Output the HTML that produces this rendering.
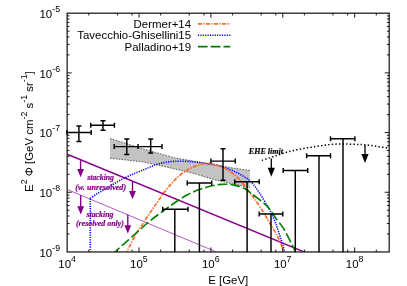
<!DOCTYPE html>
<html><head><meta charset="utf-8"><style>
html,body{margin:0;padding:0;background:#fff;}
svg{display:block;will-change:transform;opacity:0.999;}
text{font-family:"Liberation Sans",sans-serif;fill:#000;}
.s{font-family:"Liberation Serif",serif;font-style:italic;font-weight:bold;}
</style></head><body>
<svg width="407" height="286" viewBox="0 0 407 286">
<g transform="translate(0.7,0.6)">
<defs><clipPath id="c"><rect x="66.45" y="12.6" width="322.05" height="238.75"/></clipPath></defs>

<g clip-path="url(#c)">
<g transform="translate(-0.6,-0.5)">
<path d="M109.9,138.3 L144.3,149.1 L164.0,154.8 L175.0,157.8 L194.6,161.2 L214.3,164.6 L234.0,168.1 L249.7,170.5 L249.7,187.5 L234.0,184.2 L214.3,179.6 L194.6,173.6 L183.6,170.9 L164.0,166.4 L144.3,162.0 L109.9,158.1 Z" fill="#c3c3c3"/>
<path d="M109.9,138.3 L144.3,149.1 L164.0,154.8 L175.0,157.8 L194.6,161.2 L214.3,164.6 L234.0,168.1 L249.7,170.5 M109.9,158.1 L144.3,162.0 L164.0,166.4 L183.6,170.9 L194.6,173.6 L214.3,179.6 L234.0,184.2 L249.7,187.5" fill="none" stroke="#3a3a3a" stroke-width="0.8" stroke-dasharray="1.6,1.3"/>
</g>
<line x1="66.5" y1="188.9" x2="215.6" y2="251.3" stroke="#a030b0" stroke-width="0.8"/>
<line x1="66.5" y1="153.7" x2="304.6" y2="251.8" stroke="#8b008b" stroke-width="1.5"/>
<g transform="translate(-0.7,-0.6)">
<path d="M90.3,252.5 L90.3,198.2" fill="none" stroke="#0000ff" stroke-width="1.6" stroke-dasharray="1.2,1.2"/>
<path d="M90.3,198.2 C91.4,197.5 94.6,195.3 97.0,193.8 C99.4,192.3 101.9,191.0 104.7,189.3 C107.5,187.6 110.7,185.7 114.0,183.8 C117.3,181.9 121.0,179.8 124.3,178.1 C127.6,176.4 130.7,175.1 134.0,173.7 C137.3,172.3 141.3,170.8 144.0,169.7 C146.7,168.6 147.8,167.9 150.0,167.0 C152.2,166.1 155.0,165.0 157.4,164.2 C159.8,163.4 162.2,162.8 164.7,162.4 C167.1,162.0 169.6,161.7 172.1,161.5 C174.6,161.3 177.0,161.2 179.5,161.2 C182.0,161.2 184.5,161.3 186.9,161.4 C189.3,161.5 191.8,161.7 194.2,161.9 C196.6,162.1 199.1,162.5 201.6,162.8 C204.1,163.2 206.8,163.7 209.0,164.0 C211.2,164.3 213.0,164.4 215.0,164.8 C217.0,165.2 219.0,165.7 221.1,166.3 C223.2,166.9 225.2,167.8 227.3,168.6 C229.4,169.4 231.4,170.1 233.4,171.0 C235.4,171.9 237.6,172.9 239.6,174.0 C241.6,175.1 243.9,176.5 245.7,177.7 C247.5,178.9 249.0,179.9 250.5,181.3 C252.0,182.7 253.4,184.3 254.7,186.0 C256.0,187.7 257.3,189.7 258.5,191.5 C259.7,193.3 260.8,194.9 262.1,197.0 C263.4,199.1 265.3,202.2 266.5,204.3 C267.7,206.4 268.6,207.7 269.5,209.5 C270.4,211.3 271.2,213.1 272.2,215.2 C273.1,217.3 274.4,219.9 275.2,222.0 C276.0,224.1 276.2,224.7 277.1,227.5 C278.0,230.3 279.6,234.7 280.8,238.6 C282.0,242.5 283.8,248.5 284.5,251.1 C285.2,253.7 285.2,253.5 285.3,254.0" fill="none" stroke="#0000ff" stroke-width="1.6" stroke-dasharray="1.2,1.2"/>
<path d="M125.5,254.5 C125.8,254.0 126.4,252.8 127.0,251.6 C127.6,250.3 127.7,249.8 129.2,247.0 C130.7,244.2 133.7,238.1 135.8,234.5 C137.9,230.9 139.8,228.4 141.7,225.6 C143.5,222.8 145.1,220.3 146.9,217.5 C148.8,214.7 151.1,211.3 152.8,208.7 C154.6,206.1 155.4,204.8 157.4,202.0 C159.4,199.2 162.2,194.9 164.7,191.7 C167.1,188.5 169.6,185.6 172.1,182.9 C174.6,180.2 177.0,177.6 179.5,175.5 C182.0,173.4 184.5,171.8 186.9,170.3 C189.3,168.8 191.8,167.6 194.2,166.6 C196.6,165.6 199.5,164.8 201.6,164.2 C203.7,163.6 205.3,163.2 207.0,163.1 C208.7,163.0 210.7,163.5 212.0,163.8 C213.3,164.1 213.5,164.3 215.0,164.8 C216.5,165.3 219.0,165.9 221.1,166.7 C223.2,167.5 225.2,168.5 227.3,169.7 C229.4,170.9 231.4,172.3 233.4,174.0 C235.4,175.7 237.6,177.5 239.6,179.6 C241.6,181.7 243.7,184.4 245.5,186.7 C247.3,189.0 248.8,191.2 250.3,193.3 C251.8,195.4 252.7,196.4 254.7,199.2 C256.7,202.0 260.3,207.4 262.1,210.2 C263.9,213.0 264.3,213.8 265.5,215.8 C266.7,217.8 267.3,218.9 269.2,222.2 C271.1,225.5 275.2,232.1 277.1,235.6 C279.0,239.1 279.8,240.4 280.8,243.0 C281.8,245.6 282.5,249.3 283.0,251.1 C283.5,252.9 283.7,253.5 283.8,254.0" fill="none" stroke="#ff6a2a" stroke-width="1.7" stroke-dasharray="4,1.3,1.3,1.4"/>
<path d="M112.5,254.5 C113.0,254.0 114.2,252.8 115.5,251.6 C116.8,250.3 118.8,248.4 120.3,247.0 C121.8,245.6 122.7,245.0 124.7,243.3 C126.7,241.6 129.6,238.9 132.1,236.7 C134.6,234.5 137.0,232.3 139.5,230.1 C142.0,227.9 144.5,225.5 146.9,223.4 C149.3,221.3 151.8,219.4 154.2,217.5 C156.6,215.6 159.1,214.0 161.6,212.2 C164.1,210.4 166.4,208.7 169.0,206.8 C171.6,204.9 174.3,203.0 177.3,201.0 C180.3,199.0 184.1,196.6 186.9,195.0 C189.7,193.4 191.8,192.5 194.2,191.5 C196.6,190.5 199.1,189.6 201.6,188.8 C204.1,188.0 206.8,187.1 209.0,186.5 C211.2,185.9 213.0,185.5 215.0,185.2 C217.0,184.8 219.0,184.6 221.1,184.4 C223.2,184.2 225.2,184.2 227.3,184.3 C229.4,184.4 231.4,184.6 233.4,185.0 C235.4,185.4 237.6,185.8 239.6,186.5 C241.6,187.2 243.9,188.3 245.7,189.3 C247.5,190.3 249.0,191.6 250.5,192.7 C252.0,193.8 252.8,194.5 254.7,196.0 C256.6,197.5 260.1,200.2 262.1,201.8 C264.1,203.4 265.3,204.4 266.5,205.6 C267.7,206.8 268.4,207.5 269.5,208.9 C270.6,210.3 272.1,212.6 273.2,214.2 C274.3,215.8 274.7,216.8 276.0,218.5 C277.3,220.2 279.4,222.7 280.8,224.6 C282.2,226.5 283.3,227.9 284.5,230.0 C285.7,232.1 287.0,234.7 288.2,237.1 C289.4,239.5 290.9,242.5 291.9,244.5 C292.9,246.5 293.6,247.8 294.1,248.9 C294.6,250.0 294.8,250.2 295.1,251.1 C295.4,251.9 295.9,253.5 296.0,254.0" fill="none" stroke="#008000" stroke-width="1.6" stroke-dasharray="9.7,3.1"/>
</g>
</g>
<path d="M261.8,160.4 C263.1,160.0 267.0,158.7 269.5,157.9 C272.0,157.1 274.4,156.2 276.9,155.4 C279.3,154.6 281.8,153.6 284.2,152.9 C286.6,152.2 289.1,151.6 291.6,151.0 C294.1,150.4 296.4,149.8 299.0,149.3 C301.6,148.8 304.8,148.2 307.4,147.8 C310.0,147.4 312.2,147.1 314.7,146.7 C317.1,146.3 319.6,145.9 322.1,145.6 C324.6,145.2 327.0,144.8 329.5,144.6 C332.0,144.3 334.4,144.2 336.9,144.1 C339.3,144.0 341.8,144.0 344.2,144.0 C346.6,144.0 349.1,144.1 351.6,144.2 C354.1,144.3 356.9,144.4 359.0,144.5 C361.1,144.6 362.3,144.6 364.5,144.8 C366.7,145.0 369.6,145.3 372.0,145.6 C374.4,145.9 376.8,146.3 379.2,146.7 C381.6,147.1 385.0,147.6 386.6,147.8 C388.2,148.1 388.6,148.1 389.0,148.2" fill="none" stroke="#000" stroke-width="1.5" stroke-dasharray="1.4,2.2" transform="translate(-0.7,-0.6)"/>
<rect x="66.45" y="12.6" width="322.05" height="238.75" fill="none" stroke="#2a2a2a" stroke-width="1.35"/>
<path d="M88.09,251.3 v-2.3 M88.09,12.6 v2.3 M116.69,251.3 v-2.3 M116.69,12.6 v2.3 M131.36,251.3 v-2.3 M131.36,12.6 v2.3 M138.32,251.3 v-4.5 M138.32,12.6 v4.5 M159.96,251.3 v-2.3 M159.96,12.6 v2.3 M188.56,251.3 v-2.3 M188.56,12.6 v2.3 M203.23,251.3 v-2.3 M203.23,12.6 v2.3 M210.20,251.3 v-4.5 M210.20,12.6 v4.5 M231.84,251.3 v-2.3 M231.84,12.6 v2.3 M260.44,251.3 v-2.3 M260.44,12.6 v2.3 M275.11,251.3 v-2.3 M275.11,12.6 v2.3 M282.07,251.3 v-4.5 M282.07,12.6 v4.5 M303.71,251.3 v-2.3 M303.71,12.6 v2.3 M332.31,251.3 v-2.3 M332.31,12.6 v2.3 M346.98,251.3 v-2.3 M346.98,12.6 v2.3 M353.95,251.3 v-4.5 M353.95,12.6 v4.5 M375.59,251.3 v-2.3 M375.59,12.6 v2.3 M66.5,233.38 h2.3 M388.5,233.38 h-2.3 M66.5,222.87 h2.3 M388.5,222.87 h-2.3 M66.5,215.41 h2.3 M388.5,215.41 h-2.3 M66.5,209.63 h2.3 M388.5,209.63 h-2.3 M66.5,204.90 h2.3 M388.5,204.90 h-2.3 M66.5,200.91 h2.3 M388.5,200.91 h-2.3 M66.5,197.44 h2.3 M388.5,197.44 h-2.3 M66.5,194.39 h2.3 M388.5,194.39 h-2.3 M66.5,191.66 h4.5 M388.5,191.66 h-4.5 M66.5,173.69 h2.3 M388.5,173.69 h-2.3 M66.5,163.18 h2.3 M388.5,163.18 h-2.3 M66.5,155.72 h2.3 M388.5,155.72 h-2.3 M66.5,149.94 h2.3 M388.5,149.94 h-2.3 M66.5,145.21 h2.3 M388.5,145.21 h-2.3 M66.5,141.22 h2.3 M388.5,141.22 h-2.3 M66.5,137.75 h2.3 M388.5,137.75 h-2.3 M66.5,134.70 h2.3 M388.5,134.70 h-2.3 M66.5,131.97 h4.5 M388.5,131.97 h-4.5 M66.5,114.00 h2.3 M388.5,114.00 h-2.3 M66.5,103.49 h2.3 M388.5,103.49 h-2.3 M66.5,96.03 h2.3 M388.5,96.03 h-2.3 M66.5,90.25 h2.3 M388.5,90.25 h-2.3 M66.5,85.52 h2.3 M388.5,85.52 h-2.3 M66.5,81.53 h2.3 M388.5,81.53 h-2.3 M66.5,78.06 h2.3 M388.5,78.06 h-2.3 M66.5,75.01 h2.3 M388.5,75.01 h-2.3 M66.5,72.28 h4.5 M388.5,72.28 h-4.5 M66.5,54.31 h2.3 M388.5,54.31 h-2.3 M66.5,43.80 h2.3 M388.5,43.80 h-2.3 M66.5,36.34 h2.3 M388.5,36.34 h-2.3 M66.5,30.56 h2.3 M388.5,30.56 h-2.3 M66.5,25.83 h2.3 M388.5,25.83 h-2.3 M66.5,21.84 h2.3 M388.5,21.84 h-2.3 M66.5,18.37 h2.3 M388.5,18.37 h-2.3 M66.5,15.32 h2.3 M388.5,15.32 h-2.3" fill="none" stroke="#000" stroke-width="0.9"/>
<g transform="translate(-0.7,-0.6)">
<path d="M67.0,132.5 H91.2 M78.9,126.0 V141.5 M67.0,130.0 v5 M91.2,130.0 v5 M76.4,126.0 h5 M76.4,141.5 h5 M90.7,125.2 H114.4 M103.0,120.7 V130.2 M90.7,122.7 v5 M114.4,122.7 v5 M100.5,120.7 h5 M100.5,130.2 h5 M114.2,146.6 H138.0 M126.8,139.0 V154.4 M114.2,144.1 v5 M138.0,144.1 v5 M124.3,139.0 h5 M124.3,154.4 h5 M138.0,146.6 H162.0 M150.7,139.0 V153.0 M138.0,144.1 v5 M162.0,144.1 v5 M148.2,139.0 h5 M148.2,153.0 h5 M210.9,161.1 H235.3 M223.0,148.7 V180.2 M210.9,158.6 v5 M235.3,158.6 v5 M220.5,148.7 h5 M220.5,180.2 h5 M162.7,209.2 H188.0 M174.8,209.2 V252.2 M162.7,206.7 v5 M188.0,206.7 v5 M187.2,182.9 H211.7 M199.4,182.9 V252.2 M187.2,180.4 v5 M211.7,180.4 v5 M234.7,181.8 H259.2 M247.1,181.8 V252.2 M234.7,179.3 v5 M259.2,179.3 v5 M259.2,213.9 H282.8 M271.0,213.9 V252.2 M259.2,211.4 v5 M282.8,211.4 v5 M283.2,170.5 H307.7 M295.3,170.5 V252.2 M283.2,168.0 v5 M307.7,168.0 v5 M306.6,155.8 H330.5 M319.0,155.8 V252.2 M306.6,153.3 v5 M330.5,153.3 v5 M330.5,138.7 H354.9 M343.0,138.7 V252.2 M330.5,136.2 v5 M354.9,136.2 v5" fill="none" stroke="#000" stroke-width="1.45"/>
<path d="M271.3,158.6 V168.7" stroke="#000" stroke-width="1.3" fill="none"/><path d="M271.3,176.8 l-3.6,-9.1 l7.2,0 Z" fill="#000"/>
<path d="M365.0,145.0 V154.9" stroke="#000" stroke-width="1.3" fill="none"/><path d="M365.0,163.0 l-3.6,-9.1 l7.2,0 Z" fill="#000"/>
<path d="M80.6,159.3 V170.0" stroke="#87008a" stroke-width="1.4" fill="none"/><path d="M80.6,177.2 l-3.4,-8.2 l6.8,0 Z" fill="#87008a"/>
<path d="M132.5,181.5 V192.0" stroke="#87008a" stroke-width="1.4" fill="none"/><path d="M132.5,199.2 l-3.4,-8.2 l6.8,0 Z" fill="#87008a"/>
<path d="M80.7,195.3 V207.3" stroke="#87008a" stroke-width="1.4" fill="none"/><path d="M80.7,214.5 l-3.4,-8.2 l6.8,0 Z" fill="#87008a"/>
<path d="M127.8,214.6 V226.2" stroke="#87008a" stroke-width="1.4" fill="none"/><path d="M127.8,233.4 l-3.4,-8.2 l6.8,0 Z" fill="#87008a"/>
</g>
<text class="s" x="248.1" y="153.2" font-size="8.6" textLength="34.3" lengthAdjust="spacingAndGlyphs" stroke="#000" stroke-width="0.2">EHE limit</text>
<text class="s" x="86.6" y="179.8" font-size="7.6" textLength="26.7" lengthAdjust="spacingAndGlyphs" style="fill:#87008a" stroke="#87008a" stroke-width="0.2">stacking</text>
<text class="s" x="74.6" y="189.5" font-size="7.6" textLength="50.8" lengthAdjust="spacingAndGlyphs" style="fill:#87008a" stroke="#87008a" stroke-width="0.2">(w. unresolved)</text>
<text class="s" x="85.7" y="216.1" font-size="7.6" textLength="27.1" lengthAdjust="spacingAndGlyphs" style="fill:#87008a" stroke="#87008a" stroke-width="0.2">stacking</text>
<text class="s" x="75.3" y="225.5" font-size="7.6" textLength="47.9" lengthAdjust="spacingAndGlyphs" style="fill:#87008a" stroke="#87008a" stroke-width="0.2">(resolved only)</text>
<text x="190.4" y="27.6" font-size="11.45" text-anchor="end">Dermer+14</text>
<line x1="197.2" x2="229.6" y1="23.35" y2="23.35" stroke="#ff6a2a" stroke-width="1.7" stroke-dasharray="4,1.3,1.3,1.4"/>
<text x="190.4" y="38.9" font-size="11.45" text-anchor="end">Tavecchio-Ghisellini15</text>
<line x1="197.2" x2="229.6" y1="34.70" y2="34.70" stroke="#0000ff" stroke-width="1.6" stroke-dasharray="1.2,1.2"/>
<text x="190.4" y="50.3" font-size="11.45" text-anchor="end">Palladino+19</text>
<line x1="197.2" x2="229.6" y1="46.00" y2="46.00" stroke="#008000" stroke-width="1.6" stroke-dasharray="9.7,3.1"/>
<text x="57.6" y="267" font-size="11.45">10<tspan font-size="8.8" dy="-5.9">4</tspan></text>
<text x="129.4" y="267" font-size="11.45">10<tspan font-size="8.8" dy="-5.9">5</tspan></text>
<text x="201.3" y="267" font-size="11.45">10<tspan font-size="8.8" dy="-5.9">6</tspan></text>
<text x="273.2" y="267" font-size="11.45">10<tspan font-size="8.8" dy="-5.9">7</tspan></text>
<text x="345.1" y="267" font-size="11.45">10<tspan font-size="8.8" dy="-5.9">8</tspan></text>
<text x="38.8" y="256.1" font-size="11.45">10<tspan font-size="8.8" dy="-5.9">-9</tspan></text>
<text x="38.8" y="196.4" font-size="11.45">10<tspan font-size="8.8" dy="-5.9">-8</tspan></text>
<text x="38.8" y="136.7" font-size="11.45">10<tspan font-size="8.8" dy="-5.9">-7</tspan></text>
<text x="38.8" y="77.0" font-size="11.45">10<tspan font-size="8.8" dy="-5.9">-6</tspan></text>
<text x="38.8" y="17.3" font-size="11.45">10<tspan font-size="8.8" dy="-5.9">-5</tspan></text>
<text x="227.5" y="283.0" font-size="11.45" text-anchor="middle">E [GeV]</text>
<text transform="translate(32.3,131.0) rotate(-90)" font-size="11.45" text-anchor="middle">E<tspan font-size="8.8" dy="-5.9">2</tspan><tspan dy="5.9"> Φ [GeV cm</tspan><tspan font-size="8.8" dy="-5.9">-2</tspan><tspan dy="5.9"> s</tspan><tspan font-size="8.8" dy="-5.9">-1</tspan><tspan dy="5.9"> sr</tspan><tspan font-size="8.8" dy="-5.9">-1</tspan><tspan dy="5.9">]</tspan></text>
</g></svg></body></html>
